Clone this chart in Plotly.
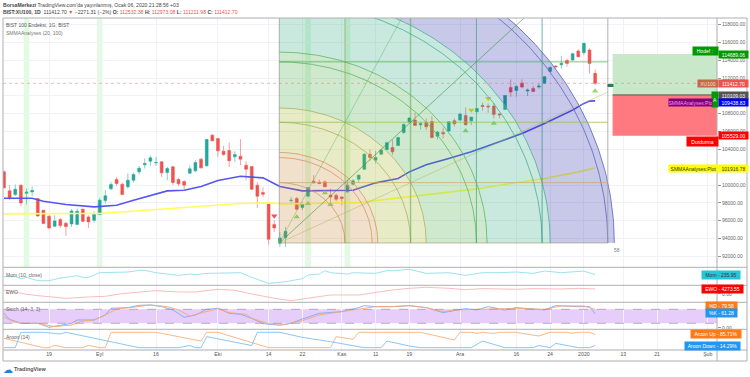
import numpy as np
import plotly.graph_objects as go

W, H = 750, 377
FONT = "Liberation Sans"

# ---------- price data (bar index 0..105) ----------
bars = list(range(106))
opens = [101476,99341,98929,99978,99079,99228,98480,97170,96495,95372,96120,95709,95634,95559,97282,96420,96046,96682,98255,99566,
         100615,100090,99791,100540,101476,102262,102674,102487,102600,101401,102038,100615,100390,101326,101588,102899,102150,105596,105221,103798,
         103873,103161,103236,102225,102075,99978,99153,97993,95559,93462,94098,98255,98480,97469,98742,100427,100315,100352,98854,98854,
         98667,99229,100090,100652,101775,103461,102786,103461,103985,104210,104434,105897,107058,107283,106758,107020,107133,105485,105897,106047,
         107208,107283,107807,107208,108219,108930,108855,108855,107957,108481,110952,110616,111439,110541,110840,110990,111402,112750,113349,113499,
         113986,114023,115035,114848,115147,112532.38]
highs = [101663,99978,100053,100053,99603,99828,98480,97170,96607,96607,96308,95859,97282,97357,97357,96607,97057,98555,99416,100353,
         100914,100240,101289,101401,102150,102974,103274,103161,102674,102038,102150,100802,100540,102225,102787,103049,105146,105708,105221,104397,
         104772,103798,105146,102674,102150,100278,99715,97993,96046,94734,95297,98667,98667,98105,99716,101101,100614,100502,99603,99041,
         98667,100539,100652,101214,103573,103985,103835,104097,104846,105108,105333,106908,107620,108106,107095,107470,107733,106084,106458,107133,
         107470,108106,108705,107620,108593,109230,109155,109230,108031,110054,111851,111215,111851,110840,111102,111402,112226,113275,113462,114473,
         114173,114848,115222,115971,115334,112973.08]
lows = [99603,98293,98780,97656,97806,98780,96420,95671,95035,95297,95184,94285,95297,95559,95859,95184,95784,96607,97918,99416,
        99903,98929,99603,100278,101176,101850,102150,102150,100914,100540,99978,99903,99528,101251,101476,101850,102075,104922,103161,103274,
        102038,102600,102225,100540,99416,97431,98667,93312,94734,93050,93050,97918,97169,97169,98667,100165,100090,99790,98105,98180,
        97731,99116,99978,100240,101700,102712,102412,103386,103910,103348,104434,105710,106908,106683,106234,106159,105222,105110,105222,106009,
        106534,107208,106683,106721,108219,108331,108106,107470,107470,108481,109904,109904,110840,109979,110428,110803,111327,112675,113050,113050,
        113275,113948,114323,114585,112525,111211.98]
closes = [99678,98555,99528,97993,99191,99378,96532,95671,95184,95971,95447,95334,97094,97057,95934,95859,96682,98293,98780,100053,
          100166,98929,100540,101176,101888,102412,103049,102525,101364,101850,100278,100128,99978,101813,102525,101925,105109,104959,103835,103423,
          102712,103423,102899,101775,99528,98742,98967,93911,95184,94061,94809,98292,97281,97843,99716,100240,100165,99790,98667,98405,
          98480,99978,100465,101101,103461,103086,103086,103910,104734,103723,105333,106796,107507,106683,106871,106533,105335,105934,105747,107095,
          106871,107957,106758,107620,108593,108818,108780,107919,107882,110054,110428,111065,110990,110653,110503,111102,112151,113200,113275,113649,
          113649,114735,114398,115896,113649,111412.70]

# ---------- moving averages ----------
smma_fast_bars = [0,5,7,11,16,20,23,27,29,32,35,38,42,46,49,53,57,62,66,70,72,75,79,83,88,92,96,101,103,104,105]
smma_fast_vals = [98517,98517,98180,97806,97544,97731,98293,99004,99341,99416,99828,100502,100989,100802,99828,99341,99379,99416,100240,100727,
                  101476,102262,102974,103723,104846,105783,106908,108406,109155,109417,109438.83]
smma_slow_bars = [0,5,11,17,23,29,35,42,47,50,63,72,84,90,96,102,105]
smma_slow_vals = [96757,96794,96794,96794,97057,97319,97544,97918,97993,97880,98030,98667,99566,100165,100727,101476,101916.78]

# ---------- signal triangles ----------
up_sig_bars = [52,54,57,58,82,87,105]
up_sig_vals = [96420,97918,99116,97806,106084,106908,110541]
warn_sig_bars = [83,86]
warn_sig_vals = [108406,109717]
down_sig_bars = [48]
down_sig_vals = [96532]
highlight_bars = [4,17,54,61]

# ---------- indicators ----------
mom_bars = [0,2,3,4,6,8,10,13,14,15,17,20,22,24,25,27,29,31,33,34,36,40,42,44,47,50,52,53,54,56,57,58,61,62,66,68,69,72,75,79,82,85,88,91,94,96,99,103,105]
mom_vals = [-2303,-2303,-4841,-3149,-7379,-7379,-3995,-1034,-3149,-3149,2773,3619,3619,5734,5734,2773,1081,-611,1081,235,1927,1927,2773,-3149,-10763,
            -8648,-5687,-4841,-188,1081,5311,2773,1081,2773,1927,5311,5311,7003,1927,2773,-611,2773,2773,3619,1927,4888,2773,4888,235.95]
ewo_bars = [0,2,4,6,9,11,15,18,21,24,27,31,34,38,41,44,48,51,53,56,58,63,66,69,72,75,79,82,85,91,94,99,102,105]
ewo_vals = [3420,1425,-285,-1425,-3135,-3705,-2565,-1995,285,1425,2850,1710,1710,3990,3135,0,-3705,-5700,-4275,-1710,-855,-855,1425,3420,4845,5700,
            4845,3705,4560,3990,4560,4275,4845,4273.55]
stoch_k_bars = [0,1,3,6,8,10,12,13,16,18,19,22,24,26,28,30,32,34,36,38,40,42,44,46,49,51,53,56,60,63,64,66,69,72,75,78,82,84,86,89,91,96,98,102,104,105]
stoch_k_vals = [62.9,37.1,20,20,2.9,10,20,34.3,34.3,55.7,84.3,87.1,97.1,98.6,91.4,77.1,45.7,55.7,80,84.3,62.9,58.6,41.4,18.6,11.4,20,38.6,62.9,70,87.1,
                95.7,91.4,91.4,95.7,87.1,65.7,82.9,77.1,91.4,77.1,87.1,77.1,95.7,91.4,91.4,61.28]
stoch_d_bars = [0,1,3,6,9,12,14,16,18,20,23,26,29,31,33,35,38,40,43,44,47,50,53,56,60,63,66,69,72,75,78,80,84,88,91,96,99,103,105]
stoch_d_vals = [48.6,34.3,20,20,5.7,12.9,30,34.3,55.7,81.4,88.6,98.6,91.4,77.1,51.4,62.9,82.9,65.7,58.6,41.4,18.6,15.7,31.4,55.7,70,81.4,91.4,91.4,95.7,
                87.1,70,77.1,80,84.3,84.3,80,94.3,94.3,79.58]
aroon_up_bars = [0,7,8,9,11,14,15,17,18,19,27,35,36,38,47,58,59,62,63,66,74,80,81,83,84,85,87,88,91,92,95,97,100,101,102,104,105]
aroon_up_vals = [61,0,0,15,0,0,15,0,0,100,100,43,100,100,0,0,72,54,100,100,100,50,100,100,93,100,93,100,100,93,76,100,100,93,100,100,85.71]
aroon_down_bars = [0,2,3,7,10,11,24,31,33,34,35,36,44,45,49,53,58,64,66,67,68,72,74,83,85,89,94,95,97,98,102,104,105]
aroon_down_vals = [0,0,100,100,89,100,0,0,14,0,0,72,14,100,100,67,39,0,0,0,43,11,0,0,43,0,0,14,0,28,0,0,14.29]

# ---------- axis labels ----------
tick_bars = [8,17,27,38,47,53,60,66,72,81,91,97,103,110,116,125]
tick_labels = ["19","Eyl","16","Eki","14","22","Kas","11","19","Ara","16","24","2020","13","21","Şub"]
price_ticks = list(range(92000, 118001, 2000))
price_ticks_hidden_by_tags = [102000]

# ---------- drawing tools ----------
gann_start_bar, gann_low = 48.9, 93494
gann_bar_unit, gann_price_unit = 11.67, 6775
arc_multipliers = [(1,0),(1,1),(1.5,0),(2,0),(2,1),(3,0),(3,1),(4,0),(4,1),(5,0),(5,1)]
arc_colors = ["#cf9a5e","#cf9a5e","#cf9a5e","#a2b560","#a2b560","#5db861","#5db861","#45ad9a","#45ad9a","#5a65c4","#5a65c4"]
band_limits = [(0,0),(1.5,0),(2,1),(3,1),(4,1),(5,1)]
band_colors = ["rgba(196,124,36,.24)","rgba(156,176,16,.24)","rgba(56,164,56,.24)","rgba(28,164,116,.24)","rgba(24,24,164,.24)"]
gann_vert_colors = ["rgba(150,150,150,.8)","rgba(160,160,80,.75)","rgba(85,170,75,.75)","rgba(60,160,115,.75)","rgba(45,140,130,.75)","rgba(160,160,160,.9)"]
gann_horiz_colors = ["rgba(160,150,110,.7)","rgba(200,170,105,.8)","rgba(150,190,85,.85)","rgba(85,180,85,.85)"]
fan_slopes = [(1,2),(1,1),(2,1)]
fan_colors = ["rgba(76,175,80,.5)","rgba(56,150,60,.75)","rgba(170,175,90,.55)"]
position_start_bar = 108.1
target_price, entry_price, stop_price = 114689.06, 110109.03, 105529.00
last_price = 111412.70

# ---------- layout helpers ----------
XL, XR = 3, 717
def py(y): return 1 - y / H
def px(x): return x / W
xrange_ = [(XL - 4) / 5.63, (XR - 4) / 5.63]

panes = [(18, 267.3), (267.3, 285.3), (285.3, 302.3), (302.3, 329.3), (329.3, 350)]
yranges = [[90764, 118742], [-13200, 9600], [-7125, 7410], [-5.7, 110], [-15.2, 119.6]]

fig = go.Figure()

fig.add_trace(go.Candlestick(x=bars, open=opens, high=highs, low=lows, close=closes, whiskerwidth=0,
    increasing=dict(line=dict(color="#26a69a", width=0.55), fillcolor="#26a69a"),
    decreasing=dict(line=dict(color="#ef5350", width=0.55), fillcolor="#ef5350"),
    xaxis="x", yaxis="y", showlegend=False))

def line(xs, ys, color, width=1, ax=("x", "y"), **kw):
    fig.add_trace(go.Scatter(x=xs, y=ys, mode="lines", line=dict(color=color, width=width),
                             xaxis=ax[0], yaxis=ax[1], showlegend=False, hoverinfo="skip", **kw))

line(smma_slow_bars, smma_slow_vals, "#ffff55", 1.6)
line(smma_fast_bars, smma_fast_vals, "#5555f5", 1.6)

for xs, ys, sym, col in [(up_sig_bars, up_sig_vals, "triangle-up", "#8fdc6c"),
                         (warn_sig_bars, warn_sig_vals, "triangle-down", "#ffd000"),
                         (down_sig_bars, down_sig_vals, "triangle-down", "#f0505a")]:
    fig.add_trace(go.Scatter(x=xs, y=ys, mode="markers", marker=dict(symbol=sym, size=5.5, color=col),
                             xaxis="x", yaxis="y", showlegend=False, hoverinfo="skip"))

# Gann square drawing
theta = np.linspace(0, np.pi / 2, 140)
def arc(m):
    r = np.hypot(*m)
    return gann_start_bar + r * gann_bar_unit * np.cos(theta), gann_low + r * gann_price_unit * np.sin(theta)

for k, col in enumerate(band_colors):
    ox, oy = arc(band_limits[k + 1])
    ix, iy = arc(band_limits[k])
    fig.add_trace(go.Scatter(x=np.r_[ox, ix[::-1]], y=np.r_[oy, iy[::-1]], mode="none", fill="toself", fillcolor=col,
                             xaxis="x", yaxis="y", showlegend=False, hoverinfo="skip"))
for m, col in zip(arc_multipliers, arc_colors):
    ax_, ay_ = arc(m)
    line(ax_, ay_, col, 0.8)
for k, col in enumerate(gann_vert_colors):
    gx = gann_start_bar + k * gann_bar_unit
    line([gx, gx], [gann_low, gann_low + 5 * gann_price_unit], col, 0.9)
for k, col in enumerate(gann_horiz_colors):
    gy = gann_low + k * gann_price_unit
    line([gann_start_bar, gann_start_bar + 5 * gann_bar_unit], [gy, gy], col, 0.9)
for (a, b), col in zip(fan_slopes, fan_colors):
    t = 5 / a
    line([gann_start_bar, gann_start_bar + a * t * gann_bar_unit], [gann_low, gann_low + b * t * gann_price_unit], col, 0.8)

# Indicators
line(mom_bars, mom_vals, "#93dfe6", 0.9, ("x2", "y2"))
line(ewo_bars, ewo_vals, "#f9b4b4", 0.9, ("x3", "y3"))
line(stoch_k_bars, stoch_k_vals, "#78aaf8", 0.9, ("x4", "y4"))
line(stoch_d_bars, stoch_d_vals, "#f8a86e", 0.9, ("x4", "y4"))
line(aroon_up_bars, aroon_up_vals, "#f8b07a", 0.9, ("x5", "y5"))
line(aroon_down_bars, aroon_down_vals, "#7cc0f8", 0.9, ("x5", "y5"))

layout = dict(width=W, height=H, margin=dict(l=0, r=0, t=0, b=0), paper_bgcolor="white", plot_bgcolor="white",
              font=dict(family=FONT, size=5, color="#555"), showlegend=False, boxgap=0.28, dragmode=False)
GRID = "#eff2f8"
shown_price_ticks = [v for v in price_ticks if v not in price_ticks_hidden_by_tags]
for n, ((top, bot), yr) in enumerate(zip(panes, yranges), start=1):
    s = "" if n == 1 else str(n)
    layout["xaxis" + s] = dict(domain=[px(XL), px(XR)], range=xrange_, anchor="y" + s, tickmode="array",
                               tickvals=tick_bars, ticktext=tick_labels if n == 5 else [""] * len(tick_bars),
                               showgrid=True, gridcolor=GRID, gridwidth=0.8, zeroline=False, showline=False,
                               ticks="", rangeslider=dict(visible=False), tickfont=dict(size=5.2, color="#555"),
                               **({"matches": "x"} if n > 1 else {}))
    y = dict(domain=[py(bot), py(top)], range=yr, anchor="x" + s, side="right", zeroline=False, showline=False,
             gridcolor=GRID, gridwidth=0.8, showgrid=n == 1, tickfont=dict(size=5, color="#666"))
    if n == 1:
        y.update(tickmode="array", tickvals=shown_price_ticks, ticktext=[f"{v:.2f}" for v in shown_price_ticks], ticks="outside", ticklen=3, tickcolor="#999", tickwidth=0.6)
    elif n == 2:
        y.update(tickmode="array", tickvals=[], ticktext=[])
    else:
        y.update(tickmode="array", tickvals=[0], ticktext=["0.00"], ticks="outside", ticklen=3, tickcolor="#999", tickwidth=0.6)
    layout["yaxis" + s] = y

shapes = []
# indicator background highlights
for b in highlight_bars:
    shapes.append(dict(type="rect", xref="x", yref="paper", x0=b - 0.5, x1=b + 0.5, y0=py(267.3), y1=py(18),
                       fillcolor="#e1fae1", line_width=0, layer="below"))
# long position tool
pos_end = xrange_[1]
shapes += [dict(type="rect", xref="x", yref="y", x0=position_start_bar, x1=pos_end, y0=entry_price, y1=target_price, fillcolor="#c9e8c9", line_width=0),
           dict(type="rect", xref="x", yref="y", x0=position_start_bar, x1=pos_end, y0=stop_price, y1=entry_price, fillcolor="#ff7a80", line_width=0),
           dict(type="line", xref="x", yref="y", x0=position_start_bar, x1=pos_end, y0=entry_price, y1=entry_price, line=dict(color="#555", width=1))]
# last price line
shapes.append(dict(type="line", xref="paper", yref="y", x0=px(XL), x1=px(XR), y0=last_price, y1=last_price,
                   line=dict(color="rgba(225,120,110,.7)", width=0.7, dash="dot")))
# flag of the position tool
shapes.append(dict(type="rect", xref="x", yref="y", x0=position_start_bar - 0.9, x1=position_start_bar + 0.15,
                   y0=110989, y1=111326, fillcolor="#2e7d5e", line_width=0))
# stochastic band
shapes.append(dict(type="rect", xref="paper", yref="y4", x0=px(XL), x1=px(XR), y0=20, y1=80, fillcolor="#e6cdfa", line_width=0, layer="below"))
for lvl in (20, 80):
    shapes.append(dict(type="line", xref="paper", yref="y4", x0=px(XL), x1=px(XR), y0=lvl, y1=lvl, line=dict(color="#8f80a0", width=0.6, dash="dash")))
# pane borders
BORDER = "#aeaeb4"
for yy in (18, 267.3, 285.3, 302.3, 329.3, 350, 361):
    shapes.append(dict(type="line", xref="paper", yref="paper", x0=px(XL), x1=px(747), y0=py(yy), y1=py(yy), line=dict(color=BORDER, width=1)))
for xx in (XL, XR, 747):
    shapes.append(dict(type="line", xref="paper", yref="paper", x0=px(xx), x1=px(xx), y0=py(361), y1=py(18), line=dict(color=BORDER, width=1)))
layout["shapes"] = shapes

ann = []
def text(x, y, s, size=5, color="#555", xanchor="left"):
    ann.append(dict(xref="paper", yref="paper", x=px(x), y=py(y), text=s, showarrow=False, xanchor=xanchor, yanchor="middle",
                    font=dict(size=size, color=color, family=FONT), borderpad=0, borderwidth=0))
def tag(x0, x1, y, s, bg, fg="white", h=7, size=5):
    ann.append(dict(xref="paper", yref="paper", x=px(x0), y=py(y), width=x1 - x0, height=h, text=s, showarrow=False, xanchor="left",
                    yanchor="middle", align="center", valign="middle", bgcolor=bg, font=dict(size=size, color=fg, family=FONT), borderpad=0))

RED = "#ef5350"
text(3, 5, "<b>BorsaMerkezi</b> TradingView.com'da yayınlanmış, Ocak 06, 2020 21:28:56 +03", 5.1, "#444")
text(3, 12, f"<b>BIST:XU100, 1D</b>  111412.70 <span style='color:{RED}'>▼</span> −2271.31 (−2%) <b>O:</b> <span style='color:{RED}'>112532.38</span> "
            f"<b>H:</b> <span style='color:{RED}'>112973.08</span> <b>L:</b> <span style='color:{RED}'>111211.98</span> <b>C:</b> <span style='color:{RED}'>111412.70</span>", 5.1, "#444")
text(6, 25, "BIST 100 Endeksi, 1G, BIST", 5, "#555")
text(6, 32.5, "SMMAAnalyses (20, 100)", 5, "#777")
text(6, 275, "Mom (10, close)", 5, "#666")
text(6, 292, "EWO", 5, "#666")
text(6, 309, "Stoch (14, 3, 3)", 5, "#666")
text(6, 337, "Aroon (14)", 5, "#666")
text(614, 250, "58", 4.8, "#777")
text(3, 369, "☁", 10, "#2a7ed8")
text(14, 369, "<b>TradingView</b>", 5.4, "#555")

# right-hand labels
tag(692, 717, 50.5, "Hodef : ", "#009900", h=8)
tag(718, 747, 54, "114689.06", "#009900")
tag(697, 717, 83, "XU100", "#c4694a", "#f5e0d0")
tag(718, 747, 83, "111412.70", RED)
tag(711, 717, 99.5, "A", "#009900", h=15)
tag(718, 747, 95, "110109.03", "#555")
tag(668, 711, 102.5, "SMMAAnalyses:Plo", "#800080", "#ff9adf")
tag(718, 747, 102.5, "109438.83", "#0000ff")
tag(718, 747, 135.6, "105529.00", "#ff0000")
tag(686, 717, 142, "Durdurma", "#ff0000", h=9)
tag(668, 717, 168, "SMMAAnalyses:Plot", "#ffff00", "#333")
tag(718, 747, 168, "101916.78", "#ffff00", "#333")
tag(701, 739, 274.7, "Mom - 235.95", "#26c6da", "#333", h=7.5)
tag(701, 742, 289, "EWO - 4273.55", "#ff0000", h=7.5)
tag(705, 736, 305.7, "%D - 79.58", "#ff7a14", h=7.5)
tag(705, 736, 313, "%K - 61.28", "#2196f3", h=7.5)
tag(690, 740, 334, "Aroon Up - 85.71%", "#ff7a14", h=7.5)
tag(684, 739, 345.7, "Aroon Down - 14.29%", "#2196f3", h=7.5)
layout["annotations"] = ann

fig.update_layout(**layout)
fig.write_html("out.html", config={"displayModeBar": False},
               post_script="document.body.style.margin='0';")
